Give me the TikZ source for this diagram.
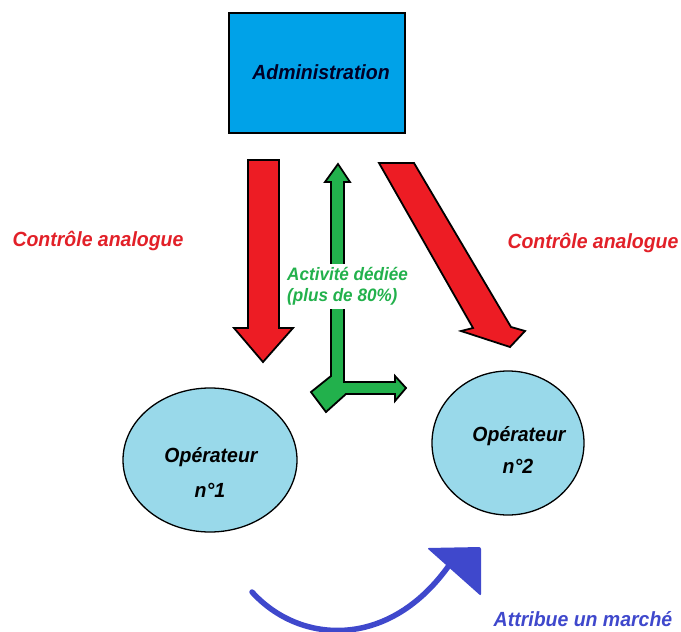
\documentclass[tikz,border=0pt]{standalone}
\usepackage{fontspec}
\setmainfont{Liberation Sans}[FakeStretch=0.95]
\usetikzlibrary{shapes.geometric}
\definecolor{adminblue}{RGB}{0,162,232}
\definecolor{opblue}{RGB}{153,217,234}
\definecolor{paintred}{RGB}{237,28,36}
\definecolor{textred}{RGB}{226,32,40}
\definecolor{paintgreen}{RGB}{34,177,76}
\definecolor{indigo}{RGB}{63,72,204}
\tikzset{
  lbl/.style={font=\fontsize{20.5}{23}\selectfont\bfseries\itshape, inner sep=0pt},
  opnode/.style={ellipse, draw=black, line width=1.3pt, fill=opblue,
    minimum width=#1, inner sep=0pt},
  redarrow/.style={fill=paintred, draw=black, line width=1.8pt, line join=miter},
  greenarrow/.style={fill=paintgreen, draw=black, line width=1.8pt, line join=miter},
}
\begin{document}
\begin{tikzpicture}[x=1pt,y=-1pt]
\useasboundingbox (0,0) rectangle (681,632);

% administration box
\node[draw=black, line width=2pt, fill=adminblue, minimum width=176pt,
      minimum height=120pt, inner sep=0pt] (admin) at (317,73) {};
\node[lbl, text=black!85!blue] (admintxt) at (321,72) {Administration};

% operators
\node[opnode=174pt, minimum height=144pt] (op1) at (210,460) {};
\node[lbl] (op1a) at (211,457) {Opérateur};
\node[lbl] (op1b) at (210,490) {n°1};
\node[opnode=152pt, minimum height=144pt] (op2) at (508,443) {};
\node[lbl] (op2a) at (519,436) {Opérateur};
\node[lbl] (op2b) at (518,466) {n°2};

% vertical control arrow towards operator 1
\draw[redarrow] (248,160) -- (279,160) -- (279,328) -- (293,328) -- (263,362)
  -- (234,328) -- (248,328) -- cycle;

% slanted control arrow towards operator 2
\draw[redarrow] (379,163) -- (414,163) -- (511,327) -- (525,331) -- (510,347)
  -- (461,331) -- (473,328) -- cycle;

% dedicated activity arrow (up, right and down-left)
\draw[greenarrow] (338,164) -- (350,182) -- (344,182) -- (344,382) -- (395,382)
  -- (395,376) -- (406,388) -- (395,401) -- (395,394) -- (346,394)
  -- (326,412) -- (311,392) -- (331,376) -- (331,182) -- (325,182) -- cycle;

% side labels
\node[lbl, text=textred] (ctl1) at (98,241) {Contrôle analogue};
\node[lbl, text=textred] (ctl2) at (593,243) {Contrôle analogue};
\node[lbl, font=\fontsize{18}{21.5}\selectfont\bfseries\itshape, text=paintgreen,
  fill=white, inner xsep=1pt, inner ysep=3pt, align=left, anchor=north west] (act)
  at (286,264) {Activité dédiée\\(plus de 80\%)};

% award arrow
\coordinate (awstart) at (252,592);
\coordinate (awend) at (450,564);
\draw[indigo, line width=5.5pt, line cap=round] (awstart)
  .. controls (300,645) and (390,650) .. (awend);
\fill[indigo, rounded corners=2pt] (427,548) -- (481,547) -- (481,596) -- cycle;
\node[lbl, text=indigo] (award) at (583,619) {Attribue un marché};
\end{tikzpicture}
\end{document}
